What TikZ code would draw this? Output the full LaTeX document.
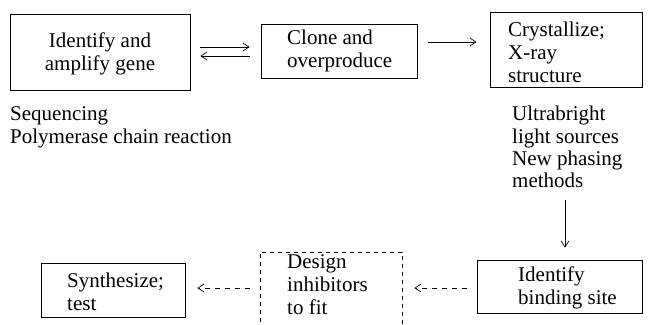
\documentclass[tikz,border=0pt]{standalone}
\usepackage{fontspec}
\setmainfont{Liberation Serif}
\newfontfamily\tms{Liberation Serif}
\usetikzlibrary{arrows.meta,calc}
\begin{document}
\begin{tikzpicture}[x=1pt,y=-1pt,
  box/.style={draw, line width=0.8pt, rectangle, inner sep=0pt},
  dbox/.style={draw, line width=0.8pt, rectangle, inner sep=0pt, dash pattern=on 4pt off 4pt},
  txt/.style={font=\tms\fontsize{21}{23}\selectfont, inner sep=0pt, align=left, anchor=west},
  arr/.style={line width=0.7pt, -{Straight Barb[length=6pt,width=8pt]}},
  darr/.style={arr, dash pattern=on 5pt off 5pt}]
\useasboundingbox (0,0) rectangle (650,324);
% boxes
\node[box, minimum width=180pt, minimum height=76pt] (b1) at (100,52) {};
\node[box, minimum width=156pt, minimum height=54pt] (b2) at (339,51) {};
\node[box, minimum width=152pt, minimum height=75pt] (b3) at (566,49.5) {};
\node[box, minimum width=165pt, minimum height=53pt] (b4) at (559.5,286.5) {};
\node[dbox, minimum width=142pt, minimum height=90pt] (b5) at (331,297) {};
\node[box, minimum width=144pt, minimum height=54pt] (b6) at (113,290) {};
% texts
\node[txt, anchor=center, align=center] (t1) at (100,53.5) {Identify and\\amplify gene};
\node[txt] (t2) at (287,51) {Clone and\\overproduce};
\node[txt] (t3) at (508,52) {Crystallize;\\X-ray\\structure};
\node[txt] (n1) at (10,127.5) {Sequencing\\Polymerase chain reaction};
\node[txt, font=\tms\fontsize{21}{22.3}\selectfont] (n3) at (512,147) {Ultrabright\\light sources\\New phasing\\methods};
\node[txt] (t4) at (518,287.5) {Identify\\binding site};
\node[txt] (t5) at (287,285) {Design\\inhibitors\\to fit};
\node[txt] (t6) at (67,292) {Synthesize;\\test};
% connector end points
\coordinate (p1) at ($(b1.east)+(10,-5)$);
\coordinate (q1) at ($(b2.west |- p1)+(-11,0)$);
\coordinate (p2) at ($(b2.west)+(-11,5)$);
\coordinate (q2) at ($(b1.east |- p2)+(10,0)$);
\coordinate (p3) at ($(b2.east)+(11,-9)$);
\coordinate (q3) at ($(b3.west |- p3)+(-13,0)$);
\coordinate (p4) at (565,200);
\coordinate (q4) at ($(p4 |- b4.north)+(0,-12)$);
\coordinate (p5) at ($(b4.west)+(-10,1.5)$);
\coordinate (q5) at ($(b5.east |- p5)+(12,0)$);
\coordinate (p6) at ($(b5.west |- p5)+(-10,0)$);
\coordinate (q6) at ($(b6.east |- p5)+(12,0)$);
% arrows
\draw[arr] (p1) -- (q1);
\draw[arr] (p2) -- (q2);
\draw[arr] (p3) -- (q3);
\draw[arr] (p4) -- (q4);
\draw[darr] (p5) -- (q5);
\draw[darr] (p6) -- (q6);
\end{tikzpicture}
\end{document}
